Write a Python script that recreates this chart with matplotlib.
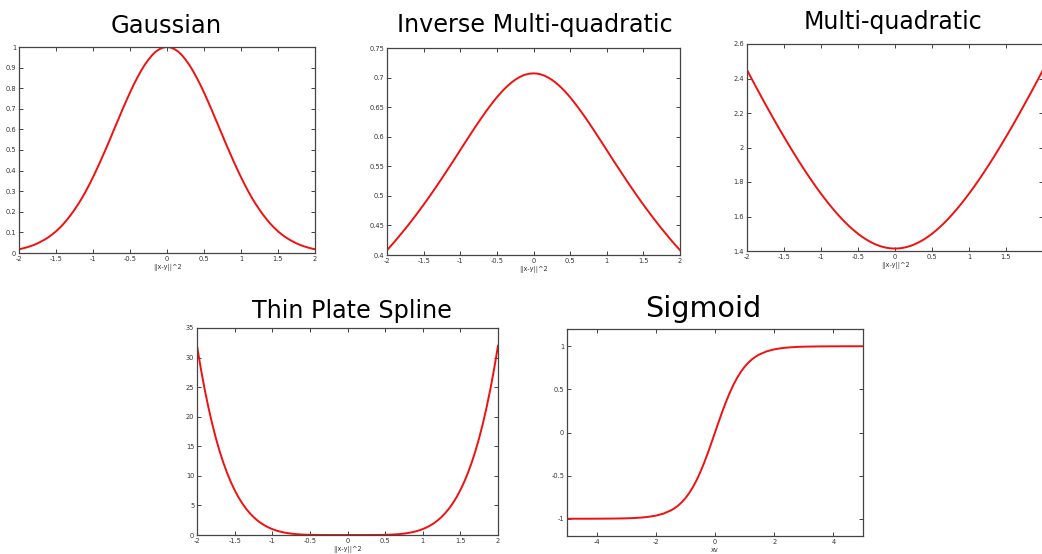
import matplotlib
matplotlib.use("Agg")
import matplotlib.pyplot as plt

plt.rcParams['font.family'] = ['DejaVu Sans']

# Shared abscissa for the four radial kernels (step 0.05 on [-2, 2])
x_rbf = [-2.0, -1.95, -1.9, -1.85, -1.8, -1.75, -1.7, -1.65, -1.6, -1.55,
         -1.5, -1.45, -1.4, -1.35, -1.3, -1.25, -1.2, -1.15, -1.1, -1.05,
         -1.0, -0.95, -0.9, -0.85, -0.8, -0.75, -0.7, -0.65, -0.6, -0.55,
         -0.5, -0.45, -0.4, -0.35, -0.3, -0.25, -0.2, -0.15, -0.1, -0.05,
         0.0,
         0.05, 0.1, 0.15, 0.2, 0.25, 0.3, 0.35, 0.4, 0.45, 0.5,
         0.55, 0.6, 0.65, 0.7, 0.75, 0.8, 0.85, 0.9, 0.95, 1.0,
         1.05, 1.1, 1.15, 1.2, 1.25, 1.3, 1.35, 1.4, 1.45, 1.5,
         1.55, 1.6, 1.65, 1.7, 1.75, 1.8, 1.85, 1.9, 1.95, 2.0]

gaussian = [0.018, 0.0223, 0.027, 0.0326, 0.039, 0.0468, 0.056, 0.0657, 0.077, 0.0905,
            0.105, 0.122, 0.141, 0.162, 0.185, 0.210, 0.237, 0.266, 0.298, 0.332,
            0.368, 0.406, 0.445, 0.486, 0.527, 0.570, 0.613, 0.655, 0.698, 0.739,
            0.779, 0.817, 0.852, 0.885, 0.914, 0.939, 0.961, 0.978, 0.990, 0.9975,
            1.000,
            0.9975, 0.990, 0.978, 0.961, 0.939, 0.914, 0.885, 0.852, 0.817, 0.779,
            0.739, 0.698, 0.655, 0.613, 0.570, 0.527, 0.486, 0.445, 0.406, 0.368,
            0.332, 0.298, 0.266, 0.237, 0.210, 0.185, 0.162, 0.141, 0.122, 0.105,
            0.0905, 0.077, 0.0657, 0.056, 0.0468, 0.039, 0.0326, 0.027, 0.0223, 0.018]

inv_multiquadratic = [0.4082, 0.4151, 0.4220, 0.4294, 0.4369, 0.4444, 0.4522, 0.4602, 0.4683, 0.4766,
                      0.4851, 0.4937, 0.5025, 0.5115, 0.5206, 0.5298, 0.5392, 0.5486, 0.5581, 0.5677,
                      0.5774, 0.5870, 0.5966, 0.6061, 0.6155, 0.6247, 0.6337, 0.6425, 0.6509, 0.6590,
                      0.6667, 0.6738, 0.6804, 0.6864, 0.6917, 0.6963, 0.7001, 0.7032, 0.7053, 0.7067,
                      0.7071,
                      0.7067, 0.7053, 0.7032, 0.7001, 0.6963, 0.6917, 0.6864, 0.6804, 0.6738, 0.6667,
                      0.6590, 0.6509, 0.6425, 0.6337, 0.6247, 0.6155, 0.6061, 0.5966, 0.5870, 0.5774,
                      0.5677, 0.5581, 0.5486, 0.5392, 0.5298, 0.5206, 0.5115, 0.5025, 0.4937, 0.4851,
                      0.4766, 0.4683, 0.4602, 0.4522, 0.4444, 0.4369, 0.4294, 0.4220, 0.4151, 0.4082]

multiquadratic = [2.4495, 2.4089, 2.3685, 2.3286, 2.2891, 2.2500, 2.2113, 2.1731, 2.1354, 2.0982,
                  2.0616, 2.0255, 1.9900, 1.9551, 1.9209, 1.8875, 1.8547, 1.8228, 1.7916, 1.7614,
                  1.7321, 1.7037, 1.6763, 1.6500, 1.6248, 1.6008, 1.5780, 1.5564, 1.5362, 1.5174,
                  1.5000, 1.4841, 1.4697, 1.4569, 1.4457, 1.4361, 1.4283, 1.4221, 1.4177, 1.4151,
                  1.4142,
                  1.4151, 1.4177, 1.4221, 1.4283, 1.4361, 1.4457, 1.4569, 1.4697, 1.4841, 1.5000,
                  1.5174, 1.5362, 1.5564, 1.5780, 1.6008, 1.6248, 1.6500, 1.6763, 1.7037, 1.7321,
                  1.7614, 1.7916, 1.8228, 1.8547, 1.8875, 1.9209, 1.9551, 1.9900, 2.0255, 2.0616,
                  2.0982, 2.1354, 2.1731, 2.2113, 2.2500, 2.2891, 2.3286, 2.3685, 2.4089, 2.4495]

thin_plate = [32.0, 28.20, 24.76, 21.67, 18.90, 16.41, 14.20, 12.23, 10.49, 8.947,
              7.594, 6.410, 5.378, 4.484, 3.713, 3.052, 2.488, 2.011, 1.611, 1.276,
              1.000, 0.774, 0.590, 0.444, 0.328, 0.237, 0.168, 0.116, 0.078, 0.0503,
              0.031, 0.0185, 0.010, 0.005, 0.002, 0.001, 0.0003, 0.0001, 0.0, 0.0,
              0.0,
              0.0, 0.0, 0.0001, 0.0003, 0.001, 0.002, 0.005, 0.010, 0.0185, 0.031,
              0.0503, 0.078, 0.116, 0.168, 0.237, 0.328, 0.444, 0.590, 0.774, 1.000,
              1.276, 1.611, 2.011, 2.488, 3.052, 3.713, 4.484, 5.378, 6.410, 7.594,
              8.947, 10.49, 12.23, 14.20, 16.41, 18.90, 21.67, 24.76, 28.20, 32.0]

x_sig = [-5.0, -4.5, -4.0, -3.5, -3.0, -2.75, -2.5, -2.25, -2.0, -1.75, -1.5, -1.375,
         -1.25, -1.125, -1.0, -0.875, -0.75, -0.625, -0.5, -0.375, -0.25, -0.125,
         0.0,
         0.125, 0.25, 0.375, 0.5, 0.625, 0.75, 0.875, 1.0, 1.125, 1.25,
         1.375, 1.5, 1.75, 2.0, 2.25, 2.5, 2.75, 3.0, 3.5, 4.0, 4.5, 5.0]
sigmoid = [-0.9999, -0.9998, -0.9993, -0.9982, -0.9951, -0.9919, -0.9866, -0.9780, -0.9640,
           -0.9414, -0.9051, -0.8800, -0.8483, -0.8093, -0.7616, -0.7039, -0.6351, -0.5546,
           -0.4621, -0.3584, -0.2449, -0.1244,
           0.0,
           0.1244, 0.2449, 0.3584, 0.4621, 0.5546, 0.6351, 0.7039, 0.7616, 0.8093, 0.8483,
           0.8800, 0.9051, 0.9414, 0.9640, 0.9780, 0.9866, 0.9919, 0.9951, 0.9982, 0.9993,
           0.9998, 0.9999]

rbf_xticks = [-2, -1.5, -1, -0.5, 0, 0.5, 1, 1.5, 2]
rbf_xlabels = ['-2', '-1.5', '-1', '-0.5', '0', '0.5', '1', '1.5', '2']

W, H = 1042, 554
fig = plt.figure(figsize=(W / 100, H / 100), dpi=100)


def make_axes(left, top, right, bottom):
    return fig.add_axes([left / W, 1 - bottom / H, (right - left) / W, (bottom - top) / H])


def style(ax, xticks, xlabels, yticks, ylabels, xlabel, xlim, ylim):
    ax.set_xlim(*xlim)
    ax.set_ylim(*ylim)
    ax.set_xticks(xticks)
    ax.set_xticklabels(xlabels)
    ax.set_yticks(yticks)
    ax.set_yticklabels(ylabels)
    ax.tick_params(direction='in', length=3, width=0.7, colors='#444444',
                   labelsize=4.8, labelcolor='#333333', top=True, right=True, pad=2)
    for s in ax.spines.values():
        s.set_color('#444444')
        s.set_linewidth(0.9)
    ax.set_xlabel(xlabel, fontsize=4.8, color='#333333', labelpad=1.5)


def title(cx, baseline, text, size):
    fig.text(cx / W, 1 - baseline / H, text, ha='center', va='baseline',
             fontsize=size, color='black')


line_kw = dict(color='#f01010', linewidth=1.4)

# Gaussian
ax1 = make_axes(19, 47, 315, 253)
ax1.plot(x_rbf, gaussian, **line_kw)
style(ax1, rbf_xticks, rbf_xlabels,
      [0, 0.1, 0.2, 0.3, 0.4, 0.5, 0.6, 0.7, 0.8, 0.9, 1],
      ['0', '0.1', '0.2', '0.3', '0.4', '0.5', '0.6', '0.7', '0.8', '0.9', '1'],
      '||x-y||^2', (-2, 2), (0, 1))
title(166, 33, 'Gaussian', 17.5)

# Inverse multi-quadratic
ax2 = make_axes(387, 48, 680, 255)
ax2.plot(x_rbf, inv_multiquadratic, **line_kw)
style(ax2, rbf_xticks, rbf_xlabels,
      [0.4, 0.45, 0.5, 0.55, 0.6, 0.65, 0.7, 0.75],
      ['0.4', '0.45', '0.5', '0.55', '0.6', '0.65', '0.7', '0.75'],
      '||x-y||^2', (-2, 2), (0.4, 0.75))
title(535, 32, 'Inverse Multi-quadratic', 17.2)

# Multi-quadratic (its right edge runs off the canvas)
ax3 = make_axes(747, 44, 1043, 251)
ax3.plot(x_rbf, multiquadratic, **line_kw)
style(ax3, rbf_xticks[:-1], rbf_xlabels[:-1],
      [1.4, 1.6, 1.8, 2.0, 2.2, 2.4, 2.6],
      ['1.4', '1.6', '1.8', '2', '2.2', '2.4', '2.6'],
      '||x-y||^2', (-2, 2), (1.4, 2.6))
title(893, 29, 'Multi-quadratic', 17)

# Thin plate spline
ax4 = make_axes(197, 328, 498, 535)
ax4.plot(x_rbf, thin_plate, **line_kw)
style(ax4, rbf_xticks, rbf_xlabels,
      [0, 5, 10, 15, 20, 25, 30, 35],
      ['0', '5', '10', '15', '20', '25', '30', '35'],
      '||x-y||^2', (-2, 2), (0, 35))
title(352, 318, 'Thin Plate Spline', 17.2)

# Sigmoid (tanh)
ax5 = make_axes(567, 329, 863, 536)
ax5.plot(x_sig, sigmoid, **line_kw)
style(ax5, [-4, -2, 0, 2, 4], ['-4', '-2', '0', '2', '4'],
      [-1, -0.5, 0, 0.5, 1], ['-1', '-0.5', '0', '0.5', '1'],
      'xv', (-5, 5), (-1.2, 1.2))
title(703, 317, 'Sigmoid', 20.6)

fig.savefig('out.png', dpi=100, facecolor='white')
